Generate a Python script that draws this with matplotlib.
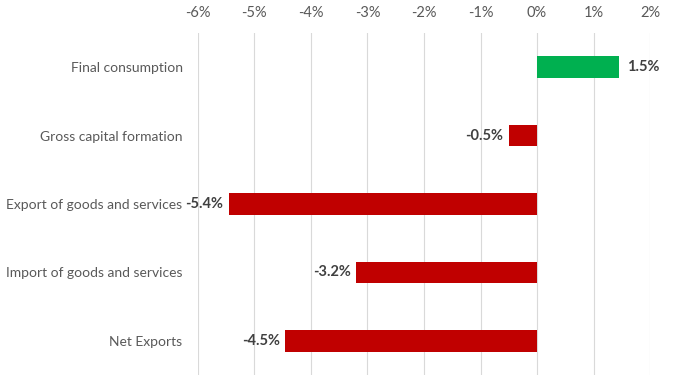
import matplotlib.pyplot as plt
from matplotlib.ticker import FuncFormatter

# 数据
categories = ["Final consumption", "Gross capital formation",
              "Export of goods and services", "Import of goods and services",
              "Net Exports"]
values = [1.45, -0.5, -5.45, -3.2, -4.45]
value_labels = ["1.5%", "-0.5%", "-5.4%", "-3.2%", "-4.5%"]
x_ticks = [-6, -5, -4, -3, -2, -1, 0, 1, 2]

plt.rcParams['font.family'] = ['Lato', 'DejaVu Sans']

fig = plt.figure(figsize=(6.73, 3.86), dpi=100)
ax = fig.add_axes([0.294, 0.028, 0.672, 0.887])

colors = ["#00b050" if v >= 0 else "#c00000" for v in values]
ypos = list(range(len(categories)))
ax.barh(ypos, values, height=0.32, color=colors, zorder=3)

# 数值标签
for y, v, lab in zip(ypos, values, value_labels):
    if v >= 0:
        ax.annotate(lab, (v, y), xytext=(6, 0), textcoords="offset points",
                    ha="left", va="center", fontsize=10.5, fontweight="bold",
                    color="#404040")
    else:
        ax.annotate(lab, (v, y), xytext=(-4, 0), textcoords="offset points",
                    ha="right", va="center", fontsize=10.5, fontweight="bold",
                    color="#404040")

ax.set_xlim(-6, 2)
ax.set_ylim(4.5, -0.5)
ax.set_xticks(x_ticks)
ax.xaxis.set_major_formatter(FuncFormatter(lambda x, p: f"{int(x)}%"))
ax.xaxis.tick_top()
ax.set_yticks(ypos)
ax.set_yticklabels(categories)
ax.tick_params(axis="both", length=0, labelsize=10, colors="#595959")
ax.tick_params(axis="y", pad=11)
ax.tick_params(axis="x", pad=9, labelsize=10.5)
ax.grid(axis="x", color="#d9d9d9", linewidth=0.8, zorder=0)
for s in ax.spines.values():
    s.set_visible(False)

plt.savefig("out.png", dpi=100)
plt.close()
